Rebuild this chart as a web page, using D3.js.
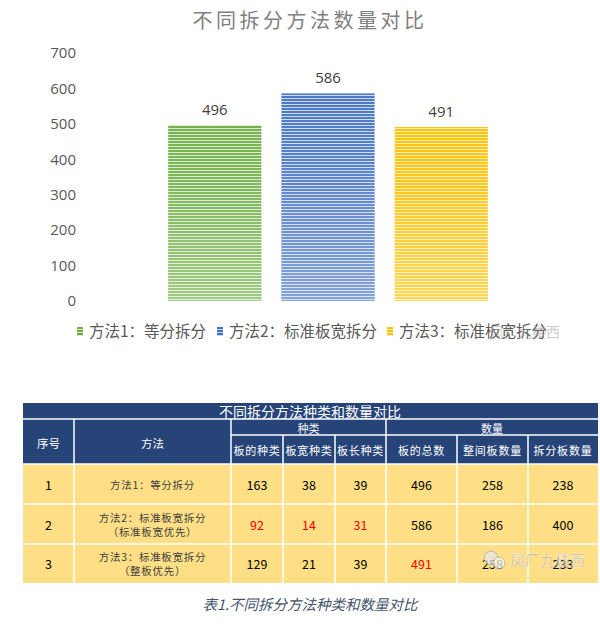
<!DOCTYPE html>
<html>
<head>
<meta charset="utf-8">
<style>
  body { margin: 0; background: #fff; }
  svg { display: block; }
  text { font-family: "Noto Sans CJK SC", "Noto Sans", sans-serif; }
</style>
</head>
<body>
<div id="chart"></div>
<script src="https://cdnjs.cloudflare.com/ajax/libs/d3/7.8.5/d3.min.js"></script>
<script>
// chart data
var methods = ["方法1：等分拆分", "方法2：标准板宽拆分", "方法3：标准板宽拆分"];
var totals = [496, 586, 491];
var barColors = ["#70AD47", "#4472C4", "#FFC000"];
var lightColors = ["#D5EAC8", "#C9D7F0", "#FFEDB0"];
var yTicks = [0, 100, 200, 300, 400, 500, 600, 700];

// table data
var rowNo = ["1", "2", "3"];
var rowMethod = [["方法1：等分拆分"], ["方法2：标准板宽拆分", "（标准板宽优先）"], ["方法3：标准板宽拆分", "（整板优先）"]];
var kindHeads = ["板的种类", "板宽种类", "板长种类"];
var countHeads = ["板的总数", "整间板数量", "拆分板数量"];
var boardKinds = [163, 92, 129];
var widthKinds = [38, 14, 21];
var lengthKinds = [39, 31, 39];
var wholeBoards = [258, 186, 258];
var splitBoards = [238, 400, 233];
// cells printed in red
var redCells = [[1, 0], [1, 1], [1, 2], [2, 3]];

var W = 600, H = 629;
var svg = d3.select("#chart").append("svg").attr("width", W).attr("height", H);
var defs = svg.append("defs");

// striped fills for the bars
barColors.forEach(function (c, i) {
    var p = defs.append("pattern")
        .attr("id", "stripe" + i)
        .attr("patternUnits", "userSpaceOnUse")
        .attr("width", 8).attr("height", 3);
    p.append("rect").attr("width", 8).attr("height", 3).attr("fill", c);
    p.append("rect").attr("y", 2).attr("width", 8).attr("height", 1).attr("fill", lightColors[i]);
    var g = defs.append("linearGradient")
        .attr("id", "fade" + i)
        .attr("x1", 0).attr("y1", 0).attr("x2", 0).attr("y2", 1);
    g.append("stop").attr("offset", "0").attr("stop-color", "#fff").attr("stop-opacity", 0.05);
    g.append("stop").attr("offset", "0.35").attr("stop-color", "#fff").attr("stop-opacity", 0.12);
    g.append("stop").attr("offset", "1").attr("stop-color", "#fff").attr("stop-opacity", 0.35);
});

svg.append("text")
    .attr("x", 310).attr("y", 28)
    .attr("text-anchor", "middle")
    .attr("font-size", 20)
    .attr("letter-spacing", 3.5)
    .attr("fill", "#808080")
    .text("不同拆分方法数量对比");

var x = d3.scaleBand().domain(methods.map(function (d, i) { return i; }))
    .range([158, 498]).paddingInner(0.177).paddingOuter(0.09);
var y = d3.scaleLinear().domain([0, 700]).range([301, 53]);

var yAxis = svg.append("g")
    .attr("transform", "translate(80,0)")
    .call(d3.axisLeft(y).tickValues(yTicks).tickSize(0).tickPadding(4));
yAxis.select(".domain").remove();
yAxis.selectAll("text")
    .attr("font-size", 15)
    .attr("fill", "#595959")
    .style("font-family", "'Open Sans', 'Noto Sans', sans-serif");

var bars = svg.selectAll(".bar").data(totals).enter().append("g");
bars.append("rect")
    .attr("x", function (d, i) { return x(i); })
    .attr("y", function (d) { return y(d); })
    .attr("width", x.bandwidth())
    .attr("height", function (d) { return y(0) - y(d); })
    .attr("fill", function (d, i) { return "url(#stripe" + i + ")"; });
bars.append("rect")
    .attr("x", function (d, i) { return x(i); })
    .attr("y", function (d) { return y(d); })
    .attr("width", x.bandwidth())
    .attr("height", function (d) { return y(0) - y(d); })
    .attr("fill", function (d, i) { return "url(#fade" + i + ")"; });
bars.append("text")
    .attr("x", function (d, i) { return x(i) + x.bandwidth() / 2; })
    .attr("y", function (d) { return y(d) - 10; })
    .attr("text-anchor", "middle")
    .attr("font-size", 15)
    .attr("fill", "#404040")
    .style("font-family", "'Open Sans', 'Noto Sans', sans-serif")
    .text(function (d) { return d; });

// legend
var legendX = [77, 217, 387];
var leg = svg.selectAll(".leg").data(methods).enter().append("g")
    .attr("transform", function (d, i) { return "translate(" + legendX[i] + ",327)"; });
leg.append("rect").attr("width", 6).attr("height", 9)
    .attr("fill", function (d, i) { return "url(#stripe" + i + ")"; });
leg.append("text")
    .attr("x", 12).attr("y", 10)
    .attr("font-size", 15.5)
    .attr("fill", "#595959")
    .text(function (d) { return d; });

// table
var colX = [23, 74, 231, 283, 335, 386, 457, 528, 598];
var navy = "#264478", yellow = "#FFDF85";
var tRows = [403, 419, 435, 464, 504, 544, 583];
var tbl = svg.append("g");

tbl.append("rect").attr("x", colX[0]).attr("y", tRows[0])
    .attr("width", colX[8] - colX[0]).attr("height", tRows[3] - tRows[0]).attr("fill", navy);
tbl.append("rect").attr("x", colX[0]).attr("y", tRows[3])
    .attr("width", colX[8] - colX[0]).attr("height", tRows[6] - tRows[3]).attr("fill", yellow);

function line(x1, y1, x2, y2) {
    tbl.append("line").attr("x1", x1).attr("y1", y1).attr("x2", x2).attr("y2", y2)
        .attr("stroke", "#fff").attr("stroke-width", 1.5);
}
line(colX[0], tRows[1], colX[8], tRows[1]);
line(colX[2], tRows[2], colX[8], tRows[2]);
[3, 4, 5].forEach(function (r) { line(colX[0], tRows[r], colX[8], tRows[r]); });
line(colX[1], tRows[1], colX[1], tRows[6]);
line(colX[2], tRows[1], colX[2], tRows[6]);
line(colX[5], tRows[1], colX[5], tRows[6]);
[3, 4, 6, 7].forEach(function (c) { line(colX[c], tRows[2], colX[c], tRows[6]); });

function txt(xp, yp, s, size, color) {
    return tbl.append("text").attr("x", xp).attr("y", yp)
        .attr("text-anchor", "middle").attr("dominant-baseline", "central")
        .attr("font-size", size).attr("fill", color).text(s);
}
txt(310, 411, "不同拆分方法种类和数量对比", 14, "#fff");
txt((colX[0] + colX[1]) / 2, 443, "序号", 11.5, "#fff");
txt((colX[1] + colX[2]) / 2, 443, "方法", 11.5, "#fff");
txt((colX[2] + colX[5]) / 2, 427.5, "种类", 11, "#fff");
txt((colX[5] + colX[8]) / 2, 427.5, "数量", 11, "#fff");
kindHeads.forEach(function (h, i) {
    txt((colX[2 + i] + colX[3 + i]) / 2, 450, h, 11, "#fff").attr("letter-spacing", 0.8);
});
countHeads.forEach(function (h, i) {
    txt((colX[5 + i] + colX[6 + i]) / 2, 450, h, 11, "#fff").attr("letter-spacing", 0.8);
});

var numCols = [boardKinds, widthKinds, lengthKinds, totals, wholeBoards, splitBoards];
rowNo.forEach(function (n, r) {
    var cy = (tRows[3 + r] + tRows[4 + r]) / 2;
    txt((colX[0] + colX[1]) / 2, cy, n, 12.5, "#000");
    var ml = rowMethod[r];
    ml.forEach(function (s, k) {
        txt((colX[1] + colX[2]) / 2, cy + (k - (ml.length - 1) / 2) * 14, s, 10.5, "#404040")
            .attr("letter-spacing", 0.7);
    });
    numCols.forEach(function (col, c) {
        var red = redCells.some(function (p) { return p[0] === r && p[1] === c; });
        txt((colX[2 + c] + colX[3 + c]) / 2, cy, col[r], 12.5, red ? "#FF0000" : "#000");
    });
});

// watermarks
var wm = svg.append("g").attr("opacity", 0.75);
wm.append("circle").attr("cx", 491).attr("cy", 558).attr("r", 7).attr("fill", "#e8e8e8").attr("stroke", "#aaa");
wm.append("circle").attr("cx", 499).attr("cy", 563).attr("r", 6).attr("fill", "#f2f2f2").attr("stroke", "#aaa");
wm.append("text").attr("x", 510).attr("y", 566).attr("font-size", 15)
    .attr("fill", "#9a9a9a").attr("stroke", "#fff").attr("stroke-width", 0.4)
    .text("凤厂九楼西");
svg.append("text").attr("x", 490).attr("y", 337).attr("font-size", 14)
    .attr("fill", "#999").attr("opacity", 0.5).text("凤厂九楼西");

svg.append("text")
    .attr("x", 310).attr("y", 610)
    .attr("text-anchor", "middle")
    .attr("font-size", 14.5)
    .attr("font-style", "italic")
    .attr("fill", "#44546A")
    .text("表1.不同拆分方法种类和数量对比");
</script>
</body>
</html>
